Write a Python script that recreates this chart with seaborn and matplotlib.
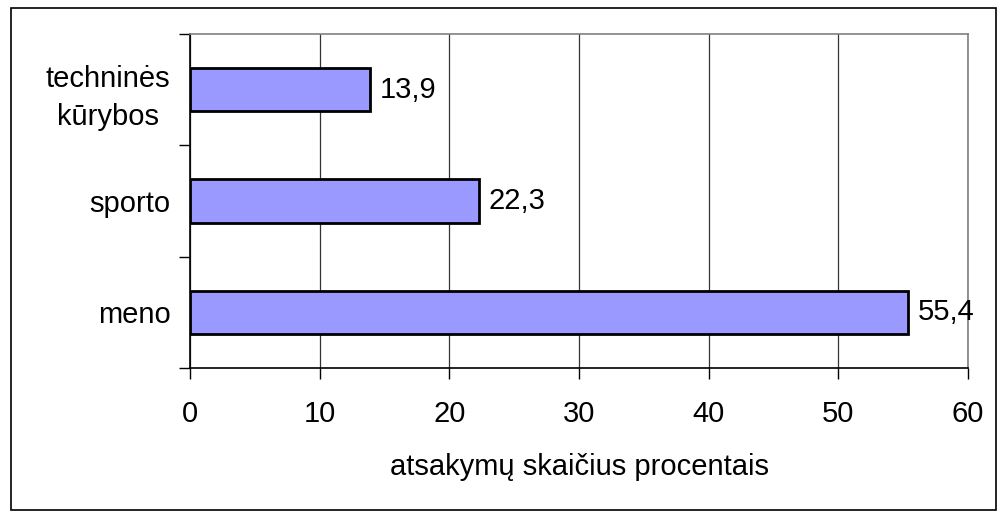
import matplotlib
matplotlib.use("Agg")
import matplotlib.pyplot as plt
import seaborn as sns
import pandas as pd
from matplotlib.patches import Rectangle
from matplotlib.ticker import FixedLocator

categories = ["techninės\nkūrybos", "sporto", "meno"]
values = [13.9, 22.3, 55.4]
xticks = [0, 10, 20, 30, 40, 50, 60]
xlabel = "atsakymų skaičius procentais"

sns.set_theme(style="white")
plt.rcParams["font.family"] = ["Liberation Sans", "DejaVu Sans"]

df = pd.DataFrame({"cat": categories, "val": values})

fig = plt.figure(figsize=(10.07, 5.2), dpi=100)
ax = fig.add_axes([190/1007, 1-368/520, (968-190)/1007, (368-34)/520])

sns.barplot(data=df, x="val", y="cat", order=categories, orient="h",
            color="#9999FF", saturation=1, edgecolor="black", linewidth=2,
            width=0.39, ax=ax, zorder=3)

FS = 21
ax.set_xlim(0, 60)
ax.set_ylim(2.5, -0.5)
ax.set_xticks(xticks)
ax.set_xticklabels([str(t) for t in xticks], fontsize=FS)
ax.set_yticks(range(len(categories)))
ax.set_yticklabels(categories, fontsize=FS, linespacing=1.45, multialignment="center")
ax.yaxis.set_minor_locator(FixedLocator([-0.5, 0.5, 1.5, 2.5]))
ax.tick_params(axis="y", which="major", length=0, pad=14, colors="black")
ax.tick_params(axis="y", which="minor", length=8, width=1, color="black", left=True)
ax.tick_params(axis="x", which="major", length=8, width=1, color="black",
               bottom=True, pad=15, labelcolor="black")
ax.set_ylabel("")
ax.set_xlabel(xlabel, fontsize=FS, labelpad=18, color="black")

ax.grid(axis="x", color="#333333", linewidth=0.9, zorder=0)
ax.set_axisbelow(True)

for side in ["left", "bottom"]:
    ax.spines[side].set_color("black")
    ax.spines[side].set_linewidth(1.2)
for side in ["top", "right"]:
    ax.spines[side].set_color("#808080")
    ax.spines[side].set_linewidth(1.2)

for i, v in enumerate(values):
    ax.annotate(f"{v:.1f}".replace(".", ","), xy=(v, i), xytext=(7, 0),
                textcoords="offset points", va="center", ha="left",
                fontsize=FS, color="black")

fig.patches.append(Rectangle((11/1007, 1-510/520), (996-11)/1007, (510-8)/520,
                             transform=fig.transFigure, fill=False,
                             edgecolor="black", linewidth=1.2))

fig.savefig("out.png", dpi=100)
